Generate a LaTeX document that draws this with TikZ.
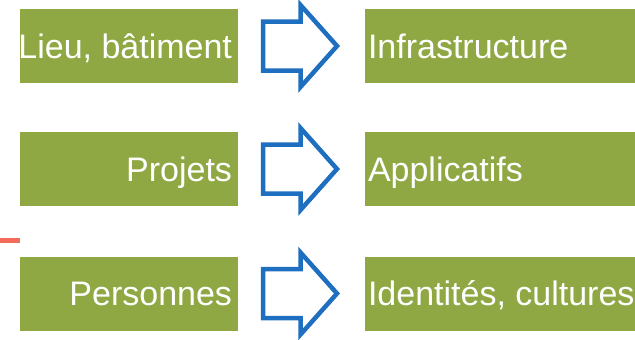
\documentclass[tikz,border=0pt]{standalone}
\usepackage{fontspec}
\setmainfont{Liberation Sans}
\usetikzlibrary{positioning}

\definecolor{vertolive}{HTML}{8FA843}
\definecolor{bleufleche}{HTML}{1F6FC0}
\definecolor{rougetrait}{HTML}{F26B5B}

\newcommand\versdroite[1]{\makebox[206pt][r]{#1}}
\newcommand\versgauche[1]{\makebox[264pt][l]{#1}}

\tikzset{
  source/.style={fill=vertolive, text=white, outer sep=0pt,
    minimum width=218pt, minimum height=74pt, inner xsep=6pt,
    font=\fontsize{34}{35}\selectfont, text height=24.5pt, text depth=0pt},
  cible/.style={source, minimum width=270pt, inner xsep=3pt},
  fleche/.style={draw=bleufleche, line width=4.5pt, line join=miter}
}

\begin{document}
\begin{tikzpicture}[x=1pt,y=-1pt]
    \useasboundingbox (0,0) rectangle (635,340);

    \node[source] (lieu) at (129,46) {\versdroite{Lieu, bâtiment}};
    \node[source] (projets) at (129,169) {\versdroite{Projets}};
    \node[source] (personnes) at (129,293.5) {\versdroite{Personnes}};

    \node[cible, right=127pt of lieu] (infra) {\versgauche{Infrastructure}};
    \node[cible, right=127pt of projets] (appli) {\versgauche{Applicatifs}};
    \node[cible, right=127pt of personnes] (ident) {\versgauche{Identités, cultures}};

    % fleches creuses entre les colonnes
    \foreach \g/\d in {lieu/infra, projets/appli, personnes/ident}{
        \draw[fleche, shift={(\g.east)}] (25,-24.5) -- (62.5,-24.5) -- (62.5,-41)
            -- (99,0) -- (62.5,41) -- (62.5,24.5) -- (25,24.5) -- cycle;
    }

    % trait rouge
    \draw[rougetrait, line width=5pt] (0,240.5) -- (lieu.west |- 0,240.5);
\end{tikzpicture}
\end{document}
